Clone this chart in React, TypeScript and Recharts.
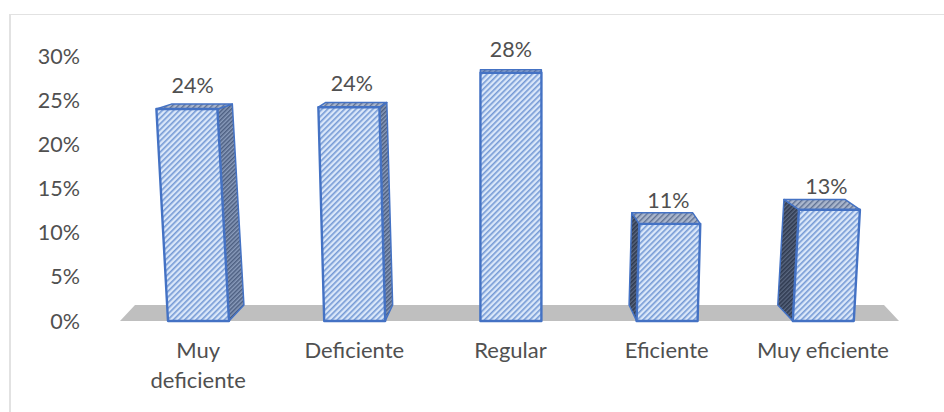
import React from "react";
import { BarChart, Bar, XAxis, YAxis, ReferenceArea, LabelList } from "recharts";

const categories = ["Muy\ndeficiente", "Deficiente", "Regular", "Eficiente", "Muy eficiente"];
const values = [24.0, 24.2, 28.1, 11.0, 12.6];
const yTicks = [0, 5, 10, 15, 20, 25, 30];
const data = categories.map((name, i) => ({ name, value: values[i] }));

const W = 944, H = 412;
const FONT = "Lato, 'Open Sans', sans-serif";
const TEXT = "#505050";
const BLUE = "#4472c4";
const VANISH_X = 510;

function persp(x: number, y: number, width: number, height: number) {
  const u = (x + width / 2 - VANISH_X) / 313;
  return { u, skew: u * 0.055 * height, depth: -15 * u, dyTop: 3 + (y - 73) * 0.053 };
}

function Bar3D(props: any) {
  const { x, y, width, height } = props;
  const { u, skew, depth, dyTop } = persp(x, y, width, height);
  const bottom = y + height;
  const fl = [x, bottom], fr = [x + width, bottom];
  const tl = [x + skew, y], tr = [x + width + skew, y];
  const dyBot = 16;
  const pts = (a: number[][]) => a.map((p) => p.join(",")).join(" ");
  const bt = [
    [tl[0] + depth, y - dyTop],
    [tr[0] + depth, y - dyTop],
  ];
  const side =
    u < -0.05
      ? [tr, bt[1], [fr[0] + depth, bottom - dyBot], fr]
      : u > 0.05
      ? [tl, bt[0], [fl[0] + depth, bottom - dyBot], fl]
      : null;
  return (
    <g stroke={BLUE} strokeLinejoin="round">
      {side && <polygon points={pts(side)} fill={u < 0 ? "url(#hSideR)" : "url(#hSideL)"} strokeWidth={1.5} />}
      <polygon points={pts([tl, bt[0], bt[1], tr])} fill="url(#hTop)" strokeWidth={1.5} />
      <polygon points={pts([tl, tr, fr, fl])} fill="url(#hFront)" strokeWidth={2.4} />
    </g>
  );
}

function Floor(props: any) {
  const { x, y, width, height } = props;
  const inset = 15;
  return (
    <polygon
      points={`${x},${y + height} ${x + inset},${y} ${x + width - inset - 2},${y} ${x + width - 2},${y + height}`}
      fill="#bfbfbf"
    />
  );
}

function BarLabel(props: any) {
  const { x, y, width, height, value } = props;
  const { skew } = persp(x, y, width, height);
  return (
    <text
      x={x + width / 2 + skew / 2}
      y={y - 24}
      textAnchor="middle"
      dominantBaseline="central"
      fontFamily={FONT}
      fontSize={21.5}
      fill={TEXT}
    >
      {Math.round(value)}%
    </text>
  );
}

function XTick(props: any) {
  const { x, y, payload } = props;
  return (
    <text x={x} textAnchor="middle" fontFamily={FONT} fontSize={22} fill={TEXT}>
      {String(payload.value)
        .split("\n")
        .map((line, i) => (
          <tspan key={i} x={x} y={y + 29 + i * 30}>
            {line}
          </tspan>
        ))}
    </text>
  );
}

export default function App() {
  return (
    <div style={{ position: "absolute", left: 0, top: 0, width: W, height: H, background: "#fff", overflow: "hidden" }}>
      <div
        style={{
          position: "absolute",
          left: 9,
          top: 14,
          width: W - 9,
          height: H - 14,
          borderLeft: "2px solid #e2e2e2",
          borderTop: "1px solid #e2e2e2",
          boxSizing: "border-box",
        }}
      />
      <BarChart
        width={W}
        height={H}
        data={data}
        margin={{ top: 56, right: 43, bottom: 0, left: 0 }}
        barSize={61}
        style={{ position: "absolute", left: 0, top: 0 }}
      >
        <defs>
          <pattern id="hFront" width="4" height="4" patternUnits="userSpaceOnUse" patternTransform="rotate(-45)">
            <rect width="4" height="4" fill="#dae7f9" />
            <rect width="4" height="1.6" fill="#759ad5" />
          </pattern>
          <pattern id="hSideR" width="3" height="3" patternUnits="userSpaceOnUse" patternTransform="rotate(-45)">
            <rect width="3" height="3" fill="#8a9cbc" />
            <rect width="3" height="1.5" fill="#4c5e80" />
          </pattern>
          <pattern id="hSideL" width="3" height="3" patternUnits="userSpaceOnUse" patternTransform="rotate(-45)">
            <rect width="3" height="3" fill="#5a6780" />
            <rect width="3" height="1.6" fill="#2f3a50" />
          </pattern>
          <pattern id="hTop" width="4" height="4" patternUnits="userSpaceOnUse" patternTransform="rotate(-45)">
            <rect width="4" height="4" fill="#aab6cc" />
            <rect width="4" height="1.4" fill="#5f7194" />
          </pattern>
        </defs>
        <XAxis
          dataKey="name"
          axisLine={false}
          tickLine={false}
          height={91}
          interval={0}
          tick={<XTick />}
        />
        <YAxis
          type="number"
          domain={[0, 30]}
          ticks={yTicks}
          width={120}
          axisLine={false}
          tickLine={false}
          tickSize={0}
          tickMargin={40}
          tickFormatter={(v: number) => `${v}%`}
          tick={{ fontFamily: FONT, fontSize: 21.5, fill: TEXT }}
        />
        <ReferenceArea y1={0} y2={1.8} shape={<Floor />} stroke="none" ifOverflow="extendDomain" />
        <Bar dataKey="value" isAnimationActive={false} shape={<Bar3D />}>
          <LabelList dataKey="value" content={<BarLabel />} />
        </Bar>
      </BarChart>
    </div>
  );
}
